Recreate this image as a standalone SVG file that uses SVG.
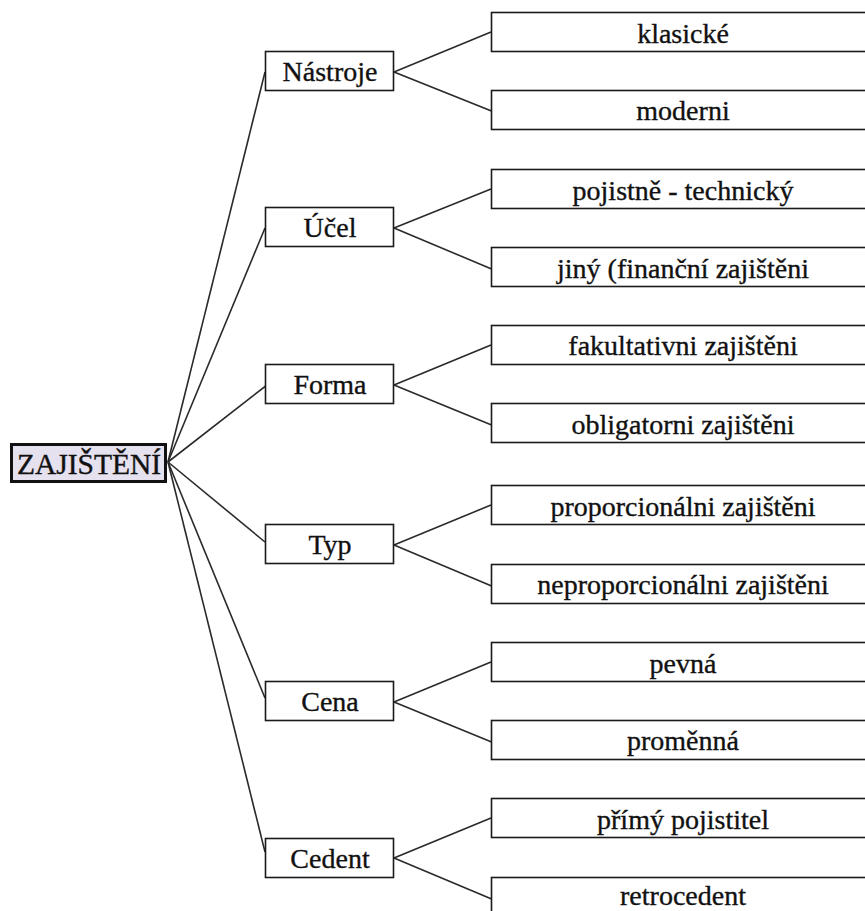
<svg xmlns="http://www.w3.org/2000/svg" width="865" height="911" viewBox="0 0 865 911">
<style>
text{font-family:"Liberation Serif","Times New Roman",serif;fill:#111;stroke:#111;stroke-width:0.35;text-anchor:middle}
.mid rect,.leaf rect{fill:#fff;stroke:#1a1a1a;stroke-width:1.6}
.mid text,.leaf text{font-size:28px}
#conn line{stroke:#2a2a2a;stroke-width:1.6}
</style>
<rect width="865" height="911" fill="#fff"/>
<g id="conn">
<line x1="168" y1="462" x2="265" y2="72"/>
<line x1="168" y1="462" x2="265" y2="228"/>
<line x1="168" y1="462" x2="267" y2="385"/>
<line x1="168" y1="462" x2="265" y2="542"/>
<line x1="168" y1="462" x2="265" y2="698"/>
<line x1="168" y1="462" x2="265" y2="852"/>
<line x1="394" y1="72" x2="491" y2="32"/>
<line x1="394" y1="72" x2="494" y2="112"/>
<line x1="394" y1="228" x2="491" y2="189"/>
<line x1="394" y1="228" x2="494" y2="270"/>
<line x1="394" y1="385" x2="491" y2="345"/>
<line x1="394" y1="385" x2="494" y2="426"/>
<line x1="394" y1="545" x2="491" y2="505"/>
<line x1="394" y1="545" x2="494" y2="587"/>
<line x1="394" y1="702" x2="491" y2="662"/>
<line x1="394" y1="702" x2="494" y2="743"/>
<line x1="394" y1="858" x2="491" y2="818"/>
<line x1="394" y1="858" x2="494" y2="900"/>
</g>
<g id="root">
<rect x="11.5" y="444.5" width="154" height="37" fill="#e6e1ee" stroke="#111" stroke-width="3"/>
<text x="89" y="474" font-size="29.5">ZAJIŠTĚNÍ</text>
</g>
<g id="n-nastroje" class="mid"><rect x="265.5" y="51.5" width="128" height="39"/><text x="330" y="81">Nástroje</text></g>
<g id="n-ucel" class="mid"><rect x="265.5" y="207.5" width="128" height="39"/><text x="330" y="237">Účel</text></g>
<g id="n-forma" class="mid"><rect x="265.5" y="364.5" width="128" height="39"/><text x="330" y="394">Forma</text></g>
<g id="n-typ" class="mid"><rect x="265.5" y="524.5" width="128" height="39"/><text x="330" y="554">Typ</text></g>
<g id="n-cena" class="mid"><rect x="265.5" y="681.5" width="128" height="39"/><text x="330" y="711">Cena</text></g>
<g id="n-cedent" class="mid"><rect x="265.5" y="838.5" width="128" height="39"/><text x="330" y="868">Cedent</text></g>
<g id="l-klasicke" class="leaf"><rect x="491.5" y="12.5" width="390" height="39"/><text x="683" y="43">klasické</text></g>
<g id="l-moderni" class="leaf"><rect x="491.5" y="90.5" width="390" height="39"/><text x="683" y="120">moderni</text></g>
<g id="l-pojistne" class="leaf"><rect x="491.5" y="169.5" width="390" height="39"/><text x="683" y="200">pojistně - technický</text></g>
<g id="l-jiny" class="leaf"><rect x="491.5" y="247.5" width="390" height="39"/><text x="683" y="278">jiný (finanční zajištěni</text></g>
<g id="l-fakultativni" class="leaf"><rect x="491.5" y="325.5" width="390" height="39"/><text x="683" y="355">fakultativni zajištěni</text></g>
<g id="l-obligatorni" class="leaf"><rect x="491.5" y="403.5" width="390" height="39"/><text x="683" y="434">obligatorni zajištěni</text></g>
<g id="l-proporcionalni" class="leaf"><rect x="491.5" y="485.5" width="390" height="39"/><text x="683" y="516">proporcionálni zajištěni</text></g>
<g id="l-neproporcionalni" class="leaf"><rect x="491.5" y="564.5" width="390" height="39"/><text x="683" y="594">neproporcionálni zajištěni</text></g>
<g id="l-pevna" class="leaf"><rect x="491.5" y="642.5" width="390" height="39"/><text x="683" y="673">pevná</text></g>
<g id="l-promenna" class="leaf"><rect x="491.5" y="720.5" width="390" height="39"/><text x="683" y="750">proměnná</text></g>
<g id="l-primy" class="leaf"><rect x="491.5" y="798.5" width="390" height="39"/><text x="683" y="829">přímý pojistitel</text></g>
<g id="l-retrocedent" class="leaf"><rect x="491.5" y="877.5" width="390" height="39"/><text x="683" y="905">retrocedent</text></g>
</svg>
